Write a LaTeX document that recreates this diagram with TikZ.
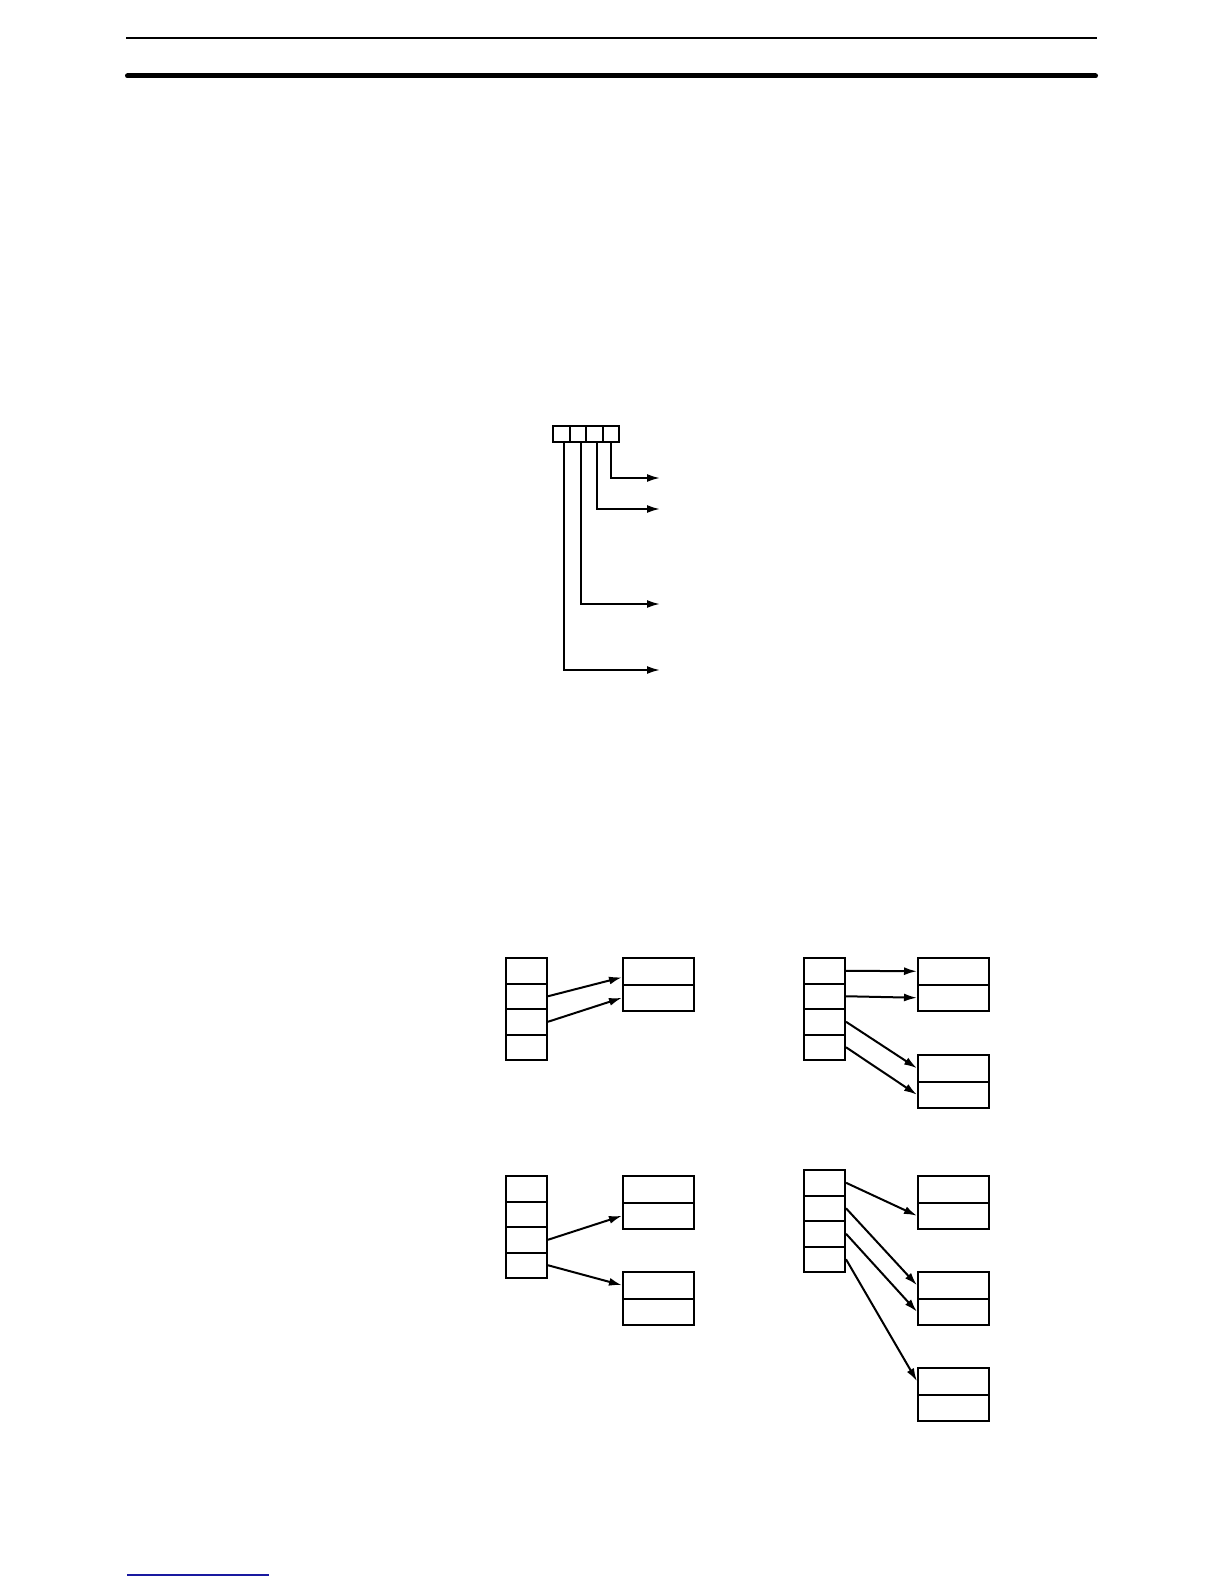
\documentclass[tikz,border=0pt]{standalone}
\usepackage{tikz}
\usetikzlibrary{arrows.meta}
\definecolor{linkblue}{RGB}{25,25,160}

\begin{document}
\begin{tikzpicture}[x=0.5pt,y=-0.5pt,
  bit/.style={draw,line width=1pt,inner sep=0pt,minimum width=8.25pt,minimum height=8pt},
  cell/.style={draw,line width=1pt,inner sep=0pt,minimum width=20.5pt,minimum height=12.75pt},
  row/.style={draw,line width=1pt,inner sep=0pt,minimum width=35.5pt,minimum height=13.25pt},
  fleche/.style={line width=1pt,-{Latex[length=6.5pt,width=4pt]}}]
\useasboundingbox (0,0) rectangle (1224,1584);
% en-tete
\draw[line width=1pt] (126,38) -- (1097,38);
\draw[line width=2.5pt,line cap=round] (127.5,76) -- (1095.5,76);
% registre
\foreach \i in {1,...,4}
  \node[bit] (r\i) at ({544.75+16.5*\i},434) {};
\coordinate (t1) at (660,670);
\coordinate (t2) at (660,604);
\coordinate (t3) at (660,509);
\coordinate (t4) at (660,478);
\draw[fleche] ([xshift=1.5pt]r1.south) |- (t1);
\draw[fleche] ([xshift=1.5pt]r2.south) |- (t2);
\draw[fleche] ([xshift=1.5pt]r3.south) |- (t3);
\draw[fleche] (r4.south) |- (t4);
% piles
\foreach \i in {1,...,4} {
  \node[cell] (a\i) at (526.5,{945.25+25.5*\i}) {};
  \node[cell] (b\i) at (824.5,{945.25+25.5*\i}) {};
  \node[cell] (c\i) at (526.5,{1163.25+25.5*\i}) {};
  \node[cell] (d\i) at (824.5,{1157.25+25.5*\i}) {};
}
% blocs
\foreach \j in {1,2} {
  \node[row] (aa\j) at (658.5,{944.75+26.5*\j}) {};
  \node[row] (ba\j) at (953.5,{944.75+26.5*\j}) {};
  \node[row] (bb\j) at (953.5,{1041.75+26.5*\j}) {};
  \node[row] (ca\j) at (658.5,{1162.75+26.5*\j}) {};
  \node[row] (cb\j) at (658.5,{1258.75+26.5*\j}) {};
  \node[row] (da\j) at (953.5,{1162.75+26.5*\j}) {};
  \node[row] (db\j) at (953.5,{1258.75+26.5*\j}) {};
  \node[row] (dc\j) at (953.5,{1354.75+26.5*\j}) {};
}
\draw[fleche] (a2.east) -- ([yshift=-3pt]aa1.west);
\draw[fleche] (a3.east) -- (aa2.west);
\draw[fleche] (b1.east) -- (ba1.west);
\draw[fleche] (b2.east) -- (ba2.west);
\draw[fleche] (b3.east) -- (bb1.west);
\draw[fleche] (b4.east) -- (bb2.west);
\draw[fleche] (c3.east) -- (ca2.west);
\draw[fleche] (c4.east) -- (cb1.west);
\draw[fleche] (d1.east) -- (da2.west);
\draw[fleche] (d2.east) -- (db1.west);
\draw[fleche] (d3.east) -- (db2.west);
\draw[fleche] (d4.east) -- (dc1.west);
% pied
\draw[linkblue,line width=0.75pt] (127,1575) -- (269,1575);
\end{tikzpicture}
\end{document}
